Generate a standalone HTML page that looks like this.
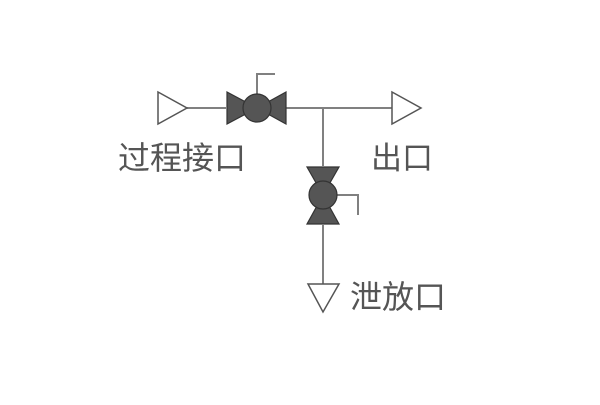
<!DOCTYPE html>
<html><head><meta charset="utf-8"><style>
html,body{margin:0;padding:0;background:#fff;}
</style></head><body>
<svg width="600" height="400" viewBox="0 0 600 400" xmlns="http://www.w3.org/2000/svg">
<g stroke="#808080" stroke-width="2" fill="none">
<line x1="187" y1="108" x2="226" y2="108"/>
<line x1="286" y1="108" x2="392" y2="108"/>
<line x1="323" y1="108" x2="323" y2="166"/>
<line x1="323" y1="225" x2="323" y2="284"/>
<polyline points="257,94 257,74 275,74"/>
<polyline points="337,195 358,195 358,215"/>
</g>
<g stroke="#555" stroke-width="1.5" fill="#fff">
<polygon points="158,92 187,108 158,124"/>
<polygon points="392,92 421,108 392,124"/>
<polygon points="308,284 339,284 323,312"/>
</g>
<g fill="#555" stroke="#333" stroke-width="1.2">
<polygon points="227,92 257,108 227,124"/>
<polygon points="286,92 257,108 286,124"/>
<circle cx="257" cy="108" r="14"/>
<polygon points="307,167 339,167 323,195"/>
<polygon points="307,224 339,224 323,195"/>
<circle cx="323" cy="195" r="14"/>
</g>
<g font-family="'Liberation Sans','Noto Sans CJK SC',sans-serif" fill="#555">
<text x="118" y="169" font-size="32">过程接口</text>
<text x="371" y="169" font-size="31">出口</text>
<text x="350" y="308" font-size="32">泄放口</text>
</g>
</svg>
</body></html>
